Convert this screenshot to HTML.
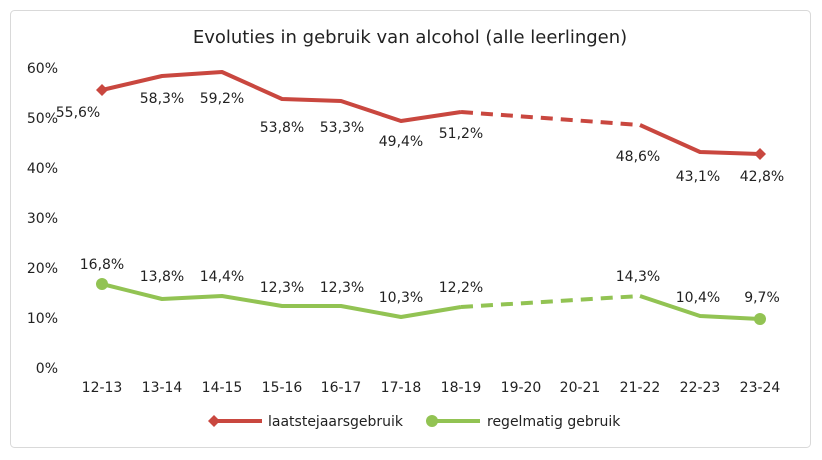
<!DOCTYPE html>
<html><head><meta charset="utf-8"><style>
html,body{margin:0;padding:0;background:#fff;}
svg{display:block;}
text{font-family:"DejaVu Sans","Liberation Sans",sans-serif;fill:#222;}
</style></head><body>
<svg width="822" height="460" viewBox="0 0 822 460">
<rect x="10.5" y="10.5" width="800" height="437" rx="4" fill="#fff" stroke="#d9d9d9"/>
<text x="410" y="43" font-size="18" text-anchor="middle">Evoluties in gebruik van alcohol (alle leerlingen)</text>
<g font-size="14" text-anchor="end">
<text x="58" y="73">60%</text><text x="58" y="123">50%</text><text x="58" y="173">40%</text>
<text x="58" y="223">30%</text><text x="58" y="273">20%</text><text x="58" y="323">10%</text>
<text x="58" y="373">0%</text>
</g>
<g font-size="14" text-anchor="middle">
<text x="102" y="392">12-13</text><text x="162" y="392">13-14</text><text x="222" y="392">14-15</text>
<text x="282" y="392">15-16</text><text x="341" y="392">16-17</text><text x="401" y="392">17-18</text>
<text x="461" y="392">18-19</text><text x="521" y="392">19-20</text><text x="580" y="392">20-21</text>
<text x="640" y="392">21-22</text><text x="700" y="392">22-23</text><text x="760" y="392">23-24</text>
</g>
<!-- red -->
<polyline fill="none" stroke="#c9473f" stroke-width="4" stroke-linejoin="round" points="102,90 162,76 222,72 282,99 341,101 401,121 461,112"/>
<polyline fill="none" stroke="#c9473f" stroke-width="4" stroke-dasharray="12,8" points="461,112 640,125"/>
<polyline fill="none" stroke="#c9473f" stroke-width="4" stroke-linejoin="round" points="640,125 700,152 760,154"/>
<path d="M102,84 L108,90 L102,96 L96,90Z" fill="#c9473f"/>
<path d="M760,148 L766,154 L760,160 L754,154Z" fill="#c9473f"/>
<!-- green -->
<polyline fill="none" stroke="#92c353" stroke-width="4" stroke-linejoin="round" points="102,284 162,299 222,296 282,306 341,306 401,317 461,307"/>
<polyline fill="none" stroke="#92c353" stroke-width="4" stroke-dasharray="12,8" points="461,307 640,296"/>
<polyline fill="none" stroke="#92c353" stroke-width="4" stroke-linejoin="round" points="640,296 700,316 760,319"/>
<circle cx="102" cy="284" r="6" fill="#92c353"/>
<circle cx="760" cy="319" r="6" fill="#92c353"/>
<g font-size="14" text-anchor="middle">
<text x="78" y="117">55,6%</text><text x="162" y="103">58,3%</text><text x="222" y="103">59,2%</text>
<text x="282" y="132">53,8%</text><text x="342" y="132">53,3%</text><text x="401" y="146">49,4%</text>
<text x="461" y="138">51,2%</text><text x="638" y="161">48,6%</text><text x="698" y="181">43,1%</text>
<text x="762" y="181">42,8%</text>
<text x="102" y="269">16,8%</text><text x="162" y="281">13,8%</text><text x="222" y="281">14,4%</text>
<text x="282" y="292">12,3%</text><text x="342" y="292">12,3%</text><text x="401" y="302">10,3%</text>
<text x="461" y="292">12,2%</text><text x="638" y="281">14,3%</text><text x="698" y="302">10,4%</text>
<text x="762" y="302">9,7%</text>
</g>
<!-- legend -->
<line x1="210" y1="421" x2="262" y2="421" stroke="#c9473f" stroke-width="4"/>
<path d="M214,415 L220,421 L214,427 L208,421Z" fill="#c9473f"/>
<text x="268" y="426" font-size="14">laatstejaarsgebruik</text>
<line x1="428" y1="421" x2="480" y2="421" stroke="#92c353" stroke-width="4"/>
<circle cx="432" cy="421" r="6" fill="#92c353"/>
<text x="487" y="426" font-size="14">regelmatig gebruik</text>
</svg>
</body></html>
